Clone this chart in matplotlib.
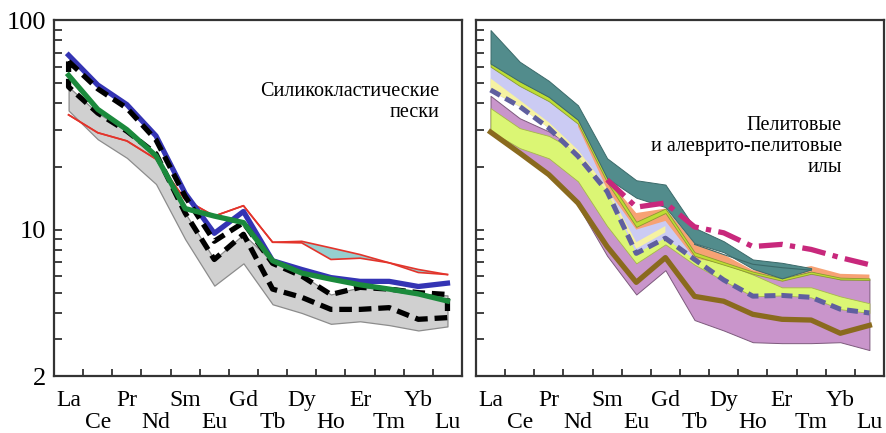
import numpy as np
import matplotlib
matplotlib.use('Agg')
import matplotlib.pyplot as plt
from matplotlib.ticker import FixedLocator, NullFormatter

plt.rcParams['font.family'] = ['Liberation Serif', 'DejaVu Serif']

elements = ['La', 'Ce', 'Pr', 'Nd', 'Sm', 'Eu', 'Gd', 'Tb', 'Dy', 'Ho', 'Er', 'Tm', 'Yb', 'Lu']
x = np.arange(len(elements))

# --- sands (left) ---
sand_blue = [68, 49, 39.5, 28, 14.9, 9.6, 12.2, 7.1, 6.45, 5.9, 5.66, 5.66, 5.35, 5.55]
sand_green = [54.5, 37.5, 30, 22.5, 12.6, 11.6, 10.8, 7.1, 6.2, 5.8, 5.45, 5.2, 4.93, 4.56]
sand_dash_hi = [63.5, 47, 38, 26.8, 14.4, 8.8, 10.8, 6.9, 6.0, 4.9, 5.3, 5.2, 5.0, 4.9]
sand_dash_lo = [48, 36, 29.5, 23, 12, 7.2, 9.5, 5.2, 4.75, 4.16, 4.16, 4.24, 3.73, 3.8]
sand_grey_hi = [48, 36, 29.5, 23, 12, 7.2, 9.5, 7.0, 6.1, 4.9, 5.3, 5.2, 4.95, 4.85]
sand_grey_lo = [37, 27, 22, 16.5, 9.0, 5.4, 6.9, 4.4, 4.0, 3.55, 3.65, 3.5, 3.3, 3.45]
sand_red_hi = [35.3, 29, 26.5, 21.7, 13.9, 11.6, 13.0, 8.7, 8.79, 8.18, 7.6, 6.94, 6.45, 6.1]
sand_red_lo = [35.3, 29, 26.5, 21.7, 13.9, 11.6, 13.0, 8.7, 8.64, 7.2, 7.3, 6.94, 6.24, 6.1]

# --- muds (right) ---
teal_hi = [89.6, 63.3, 51.3, 39.2, 21.9, 17.2, 16.4, 10.2, 8.8, 7.2, 6.94, 6.55]
teal_lo = [62, 51, 43, 33.4, 17.6, 14.2, 12.8, 8.6, 7.8, 6.5, 5.85, 6.45]
teal_mid = [8.5, 7.6, 6.83, 6.58, 6.4]
olive_hi = [64.5, 51.5, 43, 33.4, 17.8, 10.9, 12.6, 7.8, 7.0, 6.3, 5.85, 6.3, 5.9, 5.85]
olive_lo = [59.9, 48.5, 41, 32, 16.8, 10.3, 12.0, 7.5, 6.8, 6.15, 5.7, 6.15, 5.78, 5.75]
orange_hi = [33.4, 17.6, 12.0, 12.6, 8.6, 7.6, 6.4, 6.3, 6.7, 6.15, 6.1]
orange_lo = [31, 15.6, 10.0, 11.0, 7.3, 6.9, 6.2, 5.8, 6.3, 5.8, 5.8]
lav_hi = [60, 49, 41.6, 32.4, 16.8, 10.2, 12.0, 7.6]
lav_lo = [46, 38.5, 30.5, 22.5, 15.2, 7.7, 9.1, 7.2]
yel_hi = [52.7, 41.5, 32.5, 24, 15.8, 8.7, 10.4]
yel_lo = [46, 38.7, 30.5, 22.4, 15.2, 8.1, 9.7]
lime_hi = [38, 30.5, 28, 23.5, 15.8, 8.2, 10.0, 7.4, 6.9, 6.1, 5.3, 5.3, 4.8, 4.45]
lime_lo = [29.5, 24.5, 21.9, 17, 10.4, 6.9, 8.5, 6.8, 5.7, 4.8, 4.85, 4.75, 4.17, 4.0]
purple_hi = [43.5, 34, 29.4, 24.1, 15, 8, 10, 7.35, 6.94, 6.24, 5.79, 6.33, 5.79, 5.79]
purple_lo = [29.5, 23, 18.3, 13.0, 7.5, 4.9, 6.4, 3.7, 3.3, 2.9, 2.87, 2.87, 2.9, 2.66]
mud_brown = [29.2, 23.2, 18.3, 13.4, 8.3, 5.6, 7.35, 4.8, 4.55, 3.94, 3.73, 3.7, 3.2, 3.49]
mud_slate = [46.4, 38.7, 30.5, 22.4, 15.2, 7.7, 9.1, 7.2, 5.75, 4.81, 4.85, 4.75, 4.17, 4.0]
mud_magenta = [17.3, 12.8, 13.4, 10.3, 9.65, 8.3, 8.5, 8.04, 7.35, 6.8]

fig = plt.figure(figsize=(8.87, 4.33), dpi=100)
ax1 = fig.add_axes([0.0609, 0.1316, 0.46, 0.822])
ax2 = fig.add_axes([0.5366, 0.1316, 0.46, 0.822])


def setup(ax, show_ylabels):
    ax.set_yscale('log')
    ax.set_ylim(2, 100)
    ax.set_xlim(-0.5, 13.5)
    for s in ax.spines.values():
        s.set_linewidth(1.6)
        s.set_color('#333333')
    ax.yaxis.set_major_locator(FixedLocator([2, 10, 100]))
    ax.yaxis.set_minor_locator(FixedLocator([3, 4, 5, 6, 7, 8, 9, 20, 30, 40, 50, 60, 70, 80, 90]))
    ax.yaxis.set_minor_formatter(NullFormatter())
    if show_ylabels:
        ax.set_yticklabels(['2', '10', '100'])
    else:
        ax.set_yticklabels([])
    ax.tick_params(axis='y', which='both', direction='in', length=6, width=1.3,
                   labelsize=19, pad=6, colors='#333333', labelcolor='black')
    ax.set_xticks([])
    ax.xaxis.set_minor_locator(FixedLocator(np.arange(0.5, 13, 1)))
    ax.tick_params(axis='x', which='minor', direction='in', length=5, width=1.3,
                   colors='#333333')
    # element names in two staggered rows
    for i, el in enumerate(elements):
        off = -10 if i % 2 == 0 else -26
        ax.annotate(el, xy=(i, 0), xycoords=('data', 'axes fraction'),
                    xytext=(0, off), textcoords='offset points',
                    ha='center', va='top', fontsize=17)


setup(ax1, True)
setup(ax2, False)

# left panel
ax1.fill_between(x, sand_grey_lo, sand_grey_hi, facecolor='#d0d0d0',
                 edgecolor='#8c8c8c', linewidth=0.9, zorder=1)
ax1.fill_between(x, sand_red_lo, sand_red_hi, facecolor='#96cfcf', zorder=2)
ax1.plot(x, sand_red_hi, color='#e3342b', lw=1.2, zorder=3)
ax1.plot(x, sand_red_lo, color='#e3342b', lw=1.2, zorder=3)
ax1.plot(x, sand_blue, color='#3434b4', lw=3.8, zorder=4)
dash_x = np.concatenate([x, x[::-1], x[:1]])
dash_y = np.concatenate([sand_dash_hi, sand_dash_lo[::-1], sand_dash_hi[:1]])
ax1.plot(dash_x, dash_y, color='black', lw=3.8, dashes=(2.4, 1.3), zorder=5)
ax1.plot(x, sand_green, color='#1b8a3c', lw=3.8, zorder=6)
ax1.text(0.945, 0.825, 'Силикокластические\nпески', transform=ax1.transAxes,
         ha='right', va='top', fontsize=14.5, linespacing=1.15, multialignment='right')

# right panel
ax2.fill_between(x, purple_lo, purple_hi, facecolor='#c995cb',
                 edgecolor='#7d5a7d', linewidth=0.7, zorder=1)
ax2.fill_between(x, lime_lo, lime_hi, facecolor='#dbf674',
                 edgecolor='#a6b84a', linewidth=0.6, zorder=2)
ax2.fill_between(x[:8], lav_lo, lav_hi, facecolor='#cbcbf3', zorder=3)
ax2.fill_between(x[:7], yel_lo, yel_hi, facecolor='#f6f2a2', zorder=4)
ax2.fill_between(x[3:], orange_lo, orange_hi, facecolor='#f7a274', zorder=5)
ax2.fill_between(x, olive_lo, olive_hi, facecolor='#bede34',
                 edgecolor='#8a9a30', linewidth=0.6, zorder=6)
ax2.fill_between(x[:12], teal_lo, teal_hi, facecolor='#528c8c',
                 edgecolor='#3b6a6a', linewidth=0.7, zorder=7)
ax2.plot(x[7:12], teal_mid, color='#3b6a6a', lw=0.8, zorder=8)
ax2.plot(x, mud_brown, color='#8a6a1e', lw=3.8, zorder=9)
ax2.plot(x, mud_slate, color='#5f5f9f', lw=3.6, dashes=(2.2, 1.2), zorder=10)
ax2.plot(x[4:], mud_magenta, color='#c8287c', lw=3.8,
         dashes=(4.5, 1.4, 1.0, 1.4), zorder=11)
ax2.text(0.897, 0.73, 'Пелитовые\nи алеврито-пелитовые\nилы', transform=ax2.transAxes,
         ha='right', va='top', fontsize=14.5, linespacing=1.15, multialignment='right')

fig.savefig('out.png', dpi=100, facecolor='white')
